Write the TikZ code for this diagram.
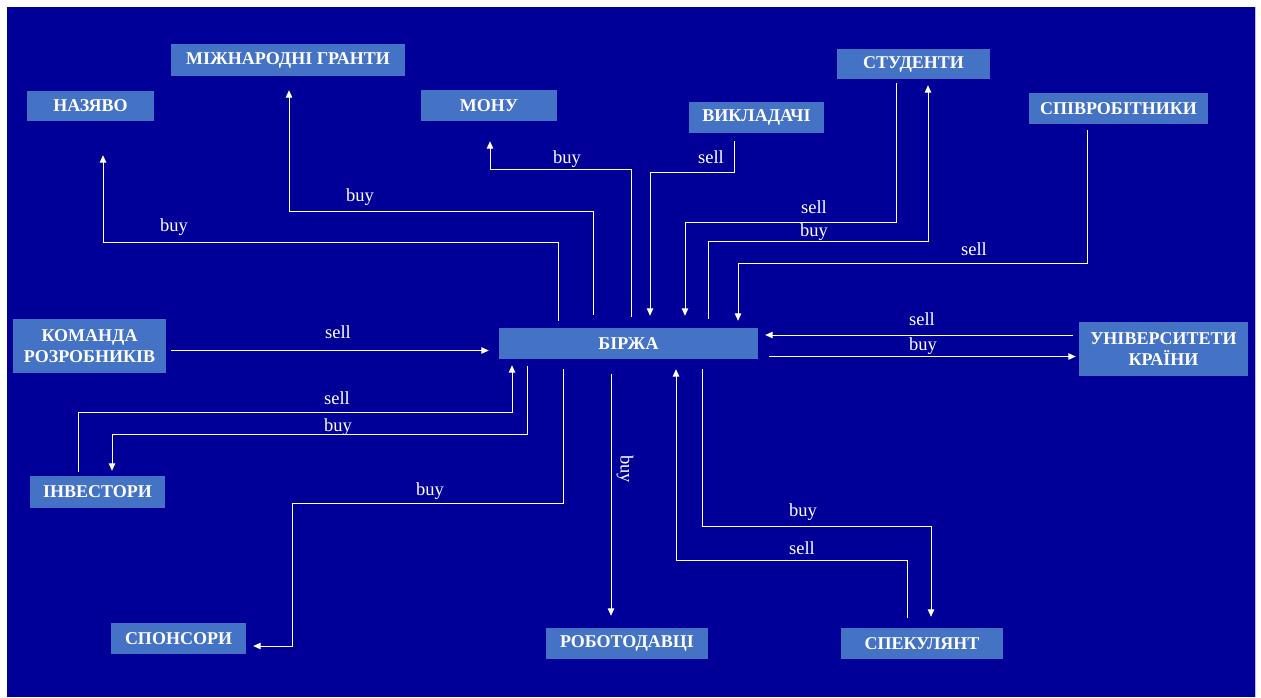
\documentclass[tikz,border=0pt]{standalone}
\usepackage{fontspec}
\setmainfont{Liberation Serif}
\usetikzlibrary{arrows.meta}
\definecolor{bgblue}{RGB}{0,0,153}
\definecolor{boxblue}{RGB}{68,114,196}
\definecolor{edgegrey}{RGB}{190,190,225}
\tikzset{
  actor/.style={fill=boxblue, text=white, font=\bfseries\fontsize{18}{21.5}\selectfont, align=center, inner sep=0pt},
  link/.style={white, line width=1pt, ->},
  lbl/.style={text=white, font=\fontsize{18.5}{21}\selectfont, inner sep=0pt}
}
\begin{document}
\begin{tikzpicture}[x=1pt, y=-1pt, >={Triangle[length=7.5pt,width=6.5pt]}]
\useasboundingbox (0,0) rectangle (1261,697);
\fill[bgblue] (7,7) rectangle (1255,697);
\draw[edgegrey, line width=1pt] (1255.5,7) -- (1255.5,697);
\node[actor, minimum width=127pt, minimum height=30pt] (nazyvo) at (90.5,106) {НАЗЯВО};
\node[actor, minimum width=234pt, minimum height=32pt] (granty) at (288,60) {МІЖНАРОДНІ ГРАНТИ};
\node[actor, minimum width=136pt, minimum height=31pt] (monu) at (489,105.5) {МОНУ};
\node[actor, minimum width=135pt, minimum height=31pt] (vykladachi) at (756.5,117.5) {ВИКЛАДАЧІ};
\node[actor, minimum width=153pt, minimum height=30pt] (studenty) at (913.5,64) {СТУДЕНТИ};
\node[actor, minimum width=179pt, minimum height=31pt] (spivrob) at (1118.5,108.5) {СПІВРОБІТНИКИ};
\node[actor, minimum width=153pt, minimum height=54pt] (komanda) at (89.5,346) {КОМАНДА\\РОЗРОБНИКІВ};
\node[actor, minimum width=259pt, minimum height=31pt] (birzha) at (628.5,343.5) {БІРЖА};
\node[actor, minimum width=169pt, minimum height=54pt] (univ) at (1163.5,349) {УНІВЕРСИТЕТИ\\КРАЇНИ};
\node[actor, minimum width=135pt, minimum height=32pt] (investory) at (97.5,492) {ІНВЕСТОРИ};
\node[actor, minimum width=135pt, minimum height=31pt] (sponsory) at (178.5,638.5) {СПОНСОРИ};
\node[actor, minimum width=162pt, minimum height=31pt] (robot) at (627,643.5) {РОБОТОДАВЦІ};
\node[actor, minimum width=162pt, minimum height=31pt] (spekul) at (922,643.5) {СПЕКУЛЯНТ};
\draw[link, shorten <=7pt, shorten >=34pt] ([xshift=-70.5pt]birzha.north) -- ++(0,-85) -| ([xshift=12.5pt]nazyvo.south);
\draw[link, shorten <=13pt, shorten >=14pt] ([xshift=-35.5pt]birzha.north) -- ++(0,-116) -| ([xshift=1pt]granty.south);
\draw[link, shorten <=11pt, shorten >=20pt] ([xshift=2.5pt]birzha.north) -- ++(0,-158) -| ([xshift=1pt]monu.south);
\draw[link, shorten <=8pt, shorten >=12pt] ([xshift=-22.5pt]vykladachi.south) -- ++(0,39) -| ([xshift=21.5pt]birzha.north);
\draw[link, shorten <=4pt, shorten >=12pt] ([xshift=-17.5pt]studenty.south) -- ++(0,143) -| ([xshift=56.5pt]birzha.north);
\draw[link, shorten <=9pt, shorten >=6pt] ([xshift=79.5pt]birzha.north) -- ++(0,-86) -| ([xshift=14.5pt]studenty.south);
\draw[link, shorten <=6pt, shorten >=7pt] ([xshift=-31.5pt]spivrob.south) -- ++(0,139) -| ([xshift=109.5pt]birzha.north);
\draw[link, shorten <=6pt, shorten >=7pt] ([yshift=14pt]univ.west) -- ([yshift=8.5pt]birzha.east);
\draw[link, shorten <=11pt, shorten >=3pt] ([yshift=-13pt]birzha.east) -- ([yshift=-7.5pt]univ.west);
\draw[link, shorten <=5pt, shorten >=10pt] ([yshift=-4.5pt]komanda.east) -- ([yshift=-7pt]birzha.west);
\draw[link, shorten <=4pt, shorten >=6pt] ([xshift=-19.5pt]investory.north) -- ++(0,-63) -| ([xshift=-116.5pt]birzha.south);
\draw[link, shorten <=7pt, shorten >=5pt] ([xshift=-101.5pt]birzha.south) -- ++(0,75) -| ([xshift=14.5pt]investory.north);
\draw[link, shorten <=10pt, shorten >=7pt] ([xshift=-65.5pt]birzha.south) -- ++(0,144) -- ++(-271,0) |- ([yshift=-7.5pt]sponsory.east);
\draw[link, shorten <=15pt, shorten >=12pt] ([xshift=-17.5pt]birzha.south) -- ([xshift=-16pt]robot.north);
\draw[link, shorten <=10pt, shorten >=11pt] ([xshift=73.5pt]birzha.south) -- ++(0,167) -| ([xshift=9pt]spekul.north);
\draw[link, shorten <=10pt, shorten >=10pt] ([xshift=-15pt]spekul.north) -- ++(0,-67) -| ([xshift=47.5pt]birzha.south);
\node[lbl] (l-nazyvo) at (174,227) {buy};
\node[lbl] (l-granty) at (360,197) {buy};
\node[lbl] (l-monu) at (567,159) {buy};
\node[lbl] (l-vykladachi) at (711,157) {sell};
\node[lbl] (l-stud-sell) at (814,207) {sell};
\node[lbl] (l-stud-buy) at (814,232) {buy};
\node[lbl] (l-spivrob) at (974,249) {sell};
\node[lbl] (l-univ-sell) at (922,319) {sell};
\node[lbl] (l-univ-buy) at (923,346) {buy};
\node[lbl] (l-komanda) at (338,332) {sell};
\node[lbl] (l-inv-sell) at (337,398) {sell};
\node[lbl] (l-inv-buy) at (338,427) {buy};
\node[lbl] (l-sponsory) at (430,491) {buy};
\node[lbl, rotate=-90] (l-robot) at (625,469) {buy};
\node[lbl] (l-spek-buy) at (803,512) {buy};
\node[lbl] (l-spek-sell) at (802,548) {sell};
\end{tikzpicture}
\end{document}
